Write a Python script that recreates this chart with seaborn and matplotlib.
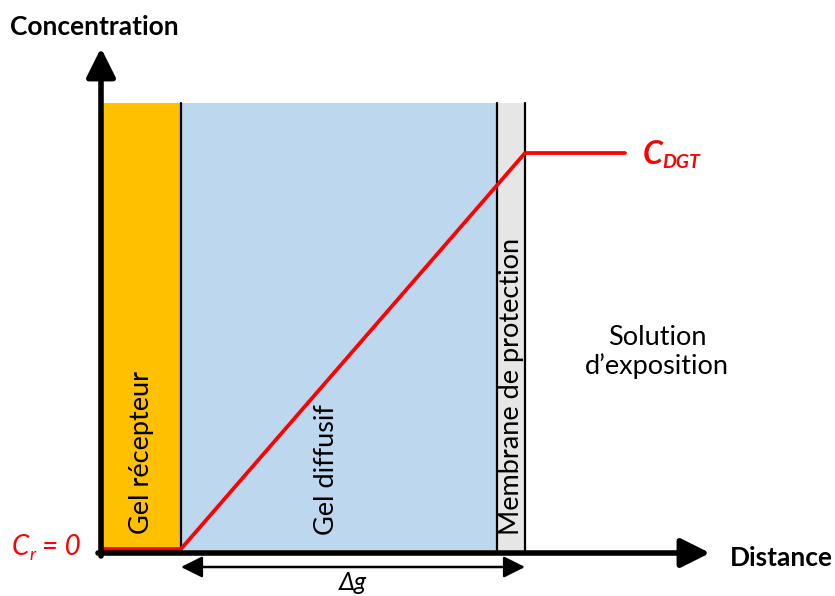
import matplotlib
matplotlib.use("Agg")
import matplotlib.pyplot as plt
import seaborn as sns
import pandas as pd

# layer edges along distance axis (left edge, width) and their fill
layer_names = ["Gel récepteur", "Gel diffusif", "Membrane de protection"]
layer_left = [101, 181, 497]
layer_width = [80, 316, 28]
layer_colors = ["#FFC000", "#BDD7EE", "#E6E6E6"]
layer_top = 493

# concentration profile
dist = [101, 181, 525, 625]
conc = [47, 47, 443, 443]

sns.set_theme(style="white")
plt.rcParams["font.family"] = ["Lato", "DejaVu Sans"]
plt.rcParams["text.color"] = "black"

fig = plt.figure(figsize=(8.35, 5.96), dpi=100)
ax = fig.add_axes([0, 0, 1, 1])
ax.set_xlim(0, 835)
ax.set_ylim(0, 596)
ax.axis("off")

ax.bar(layer_left, [layer_top - 46] * 3, width=layer_width, bottom=46,
       align="edge", color=layer_colors, edgecolor="none", zorder=1)
for x in [181, 497, 525]:
    ax.plot([x, x], [46, layer_top], color="black", lw=1.6, zorder=2)

df = pd.DataFrame({"dist": dist, "conc": conc})
sns.lineplot(data=df, x="dist", y="conc", sort=False, color="#FF0000",
             lw=2.7, ax=ax, zorder=4)

# axes arrows
ax.annotate("", xy=(101, 548), xytext=(101, 40),
            arrowprops=dict(arrowstyle="-|>,head_length=1.1,head_width=0.55",
                            mutation_scale=16, lw=4, color="black",
                            shrinkA=0, shrinkB=0), zorder=5)
ax.annotate("", xy=(710, 43), xytext=(98, 43),
            arrowprops=dict(arrowstyle="-|>,head_length=1.1,head_width=0.55",
                            mutation_scale=16, lw=4, color="black",
                            shrinkA=0, shrinkB=0), zorder=5)
ax.annotate("", xy=(525, 29), xytext=(181, 29),
            arrowprops=dict(arrowstyle="<|-|>,head_length=1.0,head_width=0.5",
                            mutation_scale=13, lw=1.8, color="black",
                            shrinkA=0, shrinkB=0), zorder=5)

ax.text(10, 569, "Concentration", fontsize=19, fontweight="bold",
        ha="left", va="center")
ax.text(730, 38, "Distance", fontsize=19, fontweight="bold",
        ha="left", va="center")
ax.text(353, 13, "Δg", fontsize=18, style="italic", ha="center", va="center")

red = "#FF0000"
ax.text(12, 49, "C", fontsize=20, style="italic", color=red,
        ha="left", va="center")
ax.text(29, 41, "r", fontsize=13, style="italic", color=red,
        ha="left", va="center")
ax.text(42, 49, "= 0", fontsize=20, style="italic", color=red,
        ha="left", va="center")
ax.text(643, 441, "C", fontsize=23, style="italic", fontweight="bold",
        color=red, ha="left", va="center")
ax.text(662, 433, "DGT", fontsize=14, style="italic", fontweight="bold",
        color=red, ha="left", va="center")

ax.text(141, 143, layer_names[0], fontsize=19.5, rotation=90,
        ha="center", va="center")
ax.text(327, 126, layer_names[1], fontsize=19.5, rotation=90,
        ha="center", va="center")
ax.text(512, 210, layer_names[2], fontsize=19.5, rotation=90,
        ha="center", va="center")
ax.text(657, 244, "Solution\nd’exposition", fontsize=19.5,
        ha="center", va="center", linespacing=1.15)

fig.savefig("out.png", dpi=100)
